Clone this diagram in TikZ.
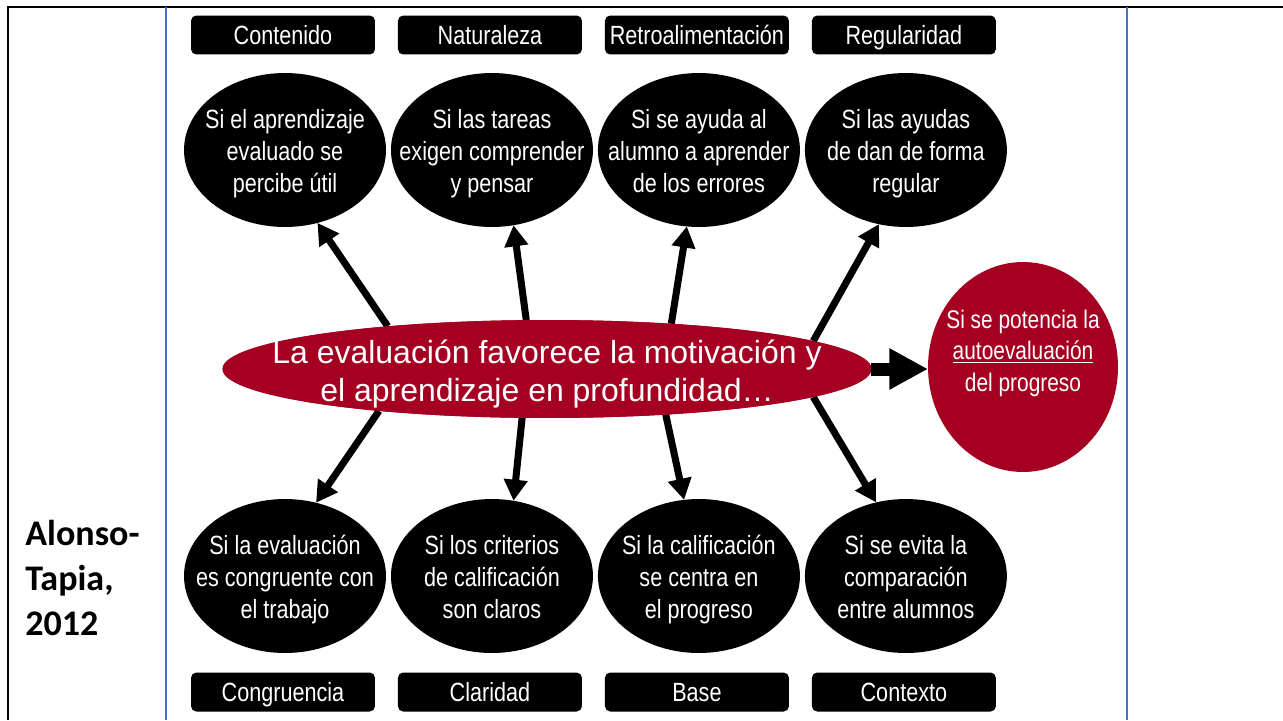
\documentclass[tikz,border=0pt]{standalone}
\usepackage{fontspec}
\setmainfont{Liberation Sans}
\newfontfamily\narrowfont[FakeStretch=0.82]{Liberation Sans}
\newfontfamily\notefont{Carlito}
\usetikzlibrary{arrows.meta,shapes.geometric}
\definecolor{wine}{RGB}{165,0,33}
\definecolor{rule}{RGB}{68,114,196}
\newcommand{\threelines}[3]{\strut#1\\\strut#2\\\strut#3}

\begin{document}
\begin{tikzpicture}[
          x = 0.02cm, y = -0.02cm,
          tag-box/.style = {fill=black, rounded corners=3pt, text=white, minimum width=3.68cm, minimum height=0.78cm, inner sep=0pt, text height=12pt, text depth=1.5pt, font=\narrowfont\fontsize{15}{16}\selectfont},
          bubble/.style = {ellipse, fill=black, minimum width=4.04cm, minimum height=3.08cm, inner sep=0pt, outer sep=0pt},
          bubble-txt/.style = {text=white, align=center, inner sep=0pt, yshift=-2.3pt, font=\narrowfont\fontsize{15}{18.2}\selectfont},
          arr/.style = {line width=4pt, -{Triangle[length=12pt,width=13pt]}},
          node distance = 4.14cm
        ]
          \useasboundingbox (0,0) rectangle (1283,720);

          % frame
          \draw[line width=1.2pt] (7,7) -- (1283,7);
          \draw[line width=1.2pt] (8,7) -- (8,720);
          \draw[rule, line width=0.7pt] (166,7) -- (166,720);
          \draw[rule, line width=0.7pt] (1127,7) -- (1127,720);

          \node[anchor=north west, align=left, inner sep=0pt, font=\notefont\bfseries\fontsize{20.5}{25.5}\selectfont] (note) at (25,520) {Alonso-\\Tapia,\\2012};

          % categories
          \node[tag-box] (t1) at (283,35) {Contenido};
          \node[tag-box,right of=t1] (t2) {Naturaleza};
          \node[tag-box,right of=t2] (t3) {Retroalimentación};
          \node[tag-box,right of=t3] (t4) {Regularidad};

          \node[tag-box] (b1) at (283,692) {Congruencia};
          \node[tag-box,right of=b1] (b2) {Claridad};
          \node[tag-box,right of=b2] (b3) {Base};
          \node[tag-box,right of=b3] (b4) {Contexto};

          % conditions
          \node[bubble,label={[bubble-txt]center:\threelines{Si el aprendizaje}{evaluado se}{percibe útil}}] (u1) at (285,150) {};
          \node[bubble,right of=u1,label={[bubble-txt]center:\threelines{Si las tareas}{exigen comprender}{y pensar}}] (u2) {};
          \node[bubble,right of=u2,label={[bubble-txt]center:\threelines{Si se ayuda al}{alumno a aprender}{de los errores}}] (u3) {};
          \node[bubble,right of=u3,label={[bubble-txt]center:\threelines{Si las ayudas}{de dan de forma}{regular}}] (u4) {};

          \node[bubble,label={[bubble-txt]center:\threelines{Si la evaluación}{es congruente con}{el trabajo}}] (d1) at (285,576) {};
          \node[bubble,right of=d1,label={[bubble-txt]center:\threelines{Si los criterios}{de calificación}{son claros}}] (d2) {};
          \node[bubble,right of=d2,label={[bubble-txt]center:\threelines{Si la calificación}{se centra en}{el progreso}}] (d3) {};
          \node[bubble,right of=d3,label={[bubble-txt]center:\threelines{Si se evita la}{comparación}{entre alumnos}}] (d4) {};

          % arrows
          \node[ellipse, fill=wine, minimum width=12.98cm, minimum height=1.96cm, inner sep=0pt, outer sep=0pt] (core) at (547,369) {};
          \draw[arr] (core.165.4) -- (u1.-66);
          \draw[arr] (core.113.8) -- (u2.-74.3);
          \draw[arr] (core.20.5) -- (u3.-99.2);
          \draw[arr] (core.6.8) -- (u4.-110.4);
          \draw[arr] (core.-166) -- (d1.67.2);
          \draw[arr] (core.-117.7) -- (d2.74.5);
          \draw[arr] (core.-21) -- (d3.101.2);
          \draw[arr] (core.-6.3) -- (d4.112.2);
          \node[ellipse, fill=wine, minimum width=12.98cm, minimum height=1.96cm, inner sep=0pt, outer sep=0pt,
                label={[text=white, align=center, inner sep=0pt, yshift=-3pt, font=\fontsize{18.2}{21.5}\selectfont]center:La evaluación favorece la motivación y\\el aprendizaje en profundidad…}] at (core) {};

          \node[ellipse, fill=wine, minimum width=3.8cm, minimum height=4.2cm, inner sep=0pt, outer sep=0pt,
                label={[text=white, align=center, inner sep=0pt, yshift=7.6pt, font=\narrowfont\fontsize{14.5}{18}\selectfont]center:\threelines{Si se potencia la}{\underline{autoevaluación}}{del progreso}}] (auto) at (1023,367) {};
          \draw[line width=7.4pt, -{Triangle[length=22pt,width=22pt]}] (core.east) -- (core.east -| auto.west);
        \end{tikzpicture}
\end{document}
